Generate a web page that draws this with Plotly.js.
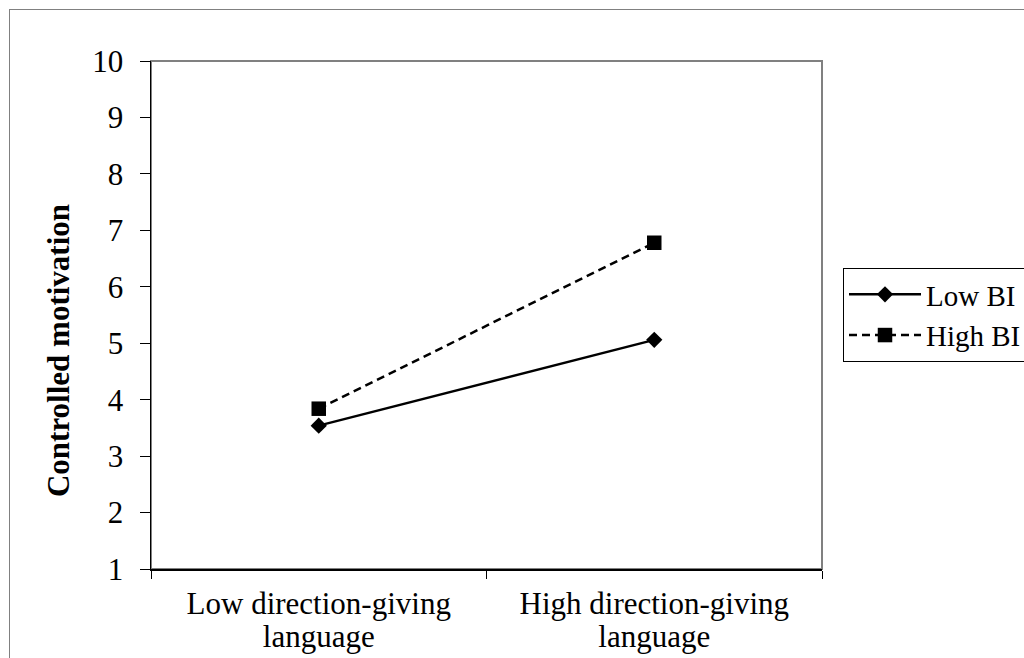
<!DOCTYPE html>
<html><head><meta charset="utf-8">
<script src="https://cdn.plot.ly/plotly-3.0.1.min.js"></script>
<style>
html,body{margin:0;padding:0;background:#fff;overflow:hidden;width:1024px;height:658px;}
#frame{position:absolute;left:9px;top:9px;width:1030px;height:660px;border:1px solid #808080;box-sizing:border-box;}
#chart{position:absolute;left:0;top:0;width:1100px;height:658px;}
</style></head>
<body>
<div id="frame"></div>
<div id="chart"></div>
<script>
const categories = ['Low direction-giving<br>language', 'High direction-giving<br>language'];
const lowBI = [3.54, 5.06];
const highBI = [3.84, 6.78];
const yTicks = [1,2,3,4,5,6,7,8,9,10];
const yTitle = 'Controlled motivation';

const font = {family: '"Liberation Serif","Times New Roman",serif', color: '#000'};
const f = s => Object.assign({size: s}, font);

const traces = [
  {x: categories, y: lowBI, name: 'Low BI', type: 'scatter', mode: 'lines+markers',
   line: {color: '#000', width: 2.5, dash: 'solid'},
   marker: {symbol: 'diamond', size: 12.5, color: '#000'}},
  {x: categories, y: highBI, name: 'High BI', type: 'scatter', mode: 'lines+markers',
   line: {color: '#000', width: 2.5, dash: '8px,5px'},
   marker: {symbol: 'square', size: 14.5, color: '#000'}}
];

const layout = {
  width: 1100, height: 658,
  margin: {l: 151, r: 278, t: 61, b: 89},
  paper_bgcolor: 'rgba(0,0,0,0)', plot_bgcolor: '#fff',
  font: f(31),
  showlegend: true,
  legend: {x: 1.0313, xanchor: 'left', y: 0.5, yanchor: 'middle',
           bordercolor: '#000', borderwidth: 1, bgcolor: '#fff',
           font: f(29), itemwidth: 72, tracegroupgap: 0},
  xaxis: {type: 'category', range: [-0.5, 1.5], showgrid: false, zeroline: false,
          showline: true, linecolor: '#000', linewidth: 1.5,
          ticks: 'outside', tickson: 'boundaries', ticklen: 8, tickcolor: '#000',
          tickfont: f(31), ticklabelstandoff: 6, fixedrange: true},
  yaxis: {range: [1, 10], tickvals: yTicks, showgrid: false, zeroline: false,
          showline: true, linecolor: '#000', linewidth: 1.5,
          ticks: 'outside', ticklen: 10, tickcolor: '#000',
          tickfont: f(31), ticklabelstandoff: 10},
  annotations: [{text: '<b>' + yTitle + '</b>', textangle: -90, showarrow: false,
                 xref: 'paper', yref: 'paper', x: -0.1386, y: 0.431,
                 xanchor: 'center', yanchor: 'middle', font: f(31)}],
  shapes: [{type: 'rect', xref: 'paper', yref: 'paper', x0: 0, x1: 1, y0: 0, y1: 1,
            line: {color: '#808080', width: 2}, layer: 'below'}]
};

Plotly.newPlot('chart', traces, layout, {displayModeBar: false, staticPlot: true}).then(() => {
  document.querySelectorAll('.xtick text tspan.line').forEach(t => {
    const dy = t.getAttribute('dy');
    if (dy && parseFloat(dy) !== 0) t.setAttribute('dy', (parseFloat(dy) / 1.3 * 1.08) + 'em');
  });
});
</script>
</body></html>
